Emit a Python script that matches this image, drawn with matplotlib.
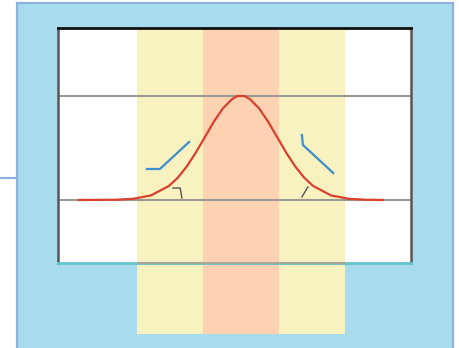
import matplotlib.pyplot as plt
from matplotlib.patches import Rectangle
from matplotlib.lines import Line2D

# Bell curve (x in sigma units, height relative to peak)
curve_x = [-4.5, -3.5, -3.0, -2.5, -2.0, -1.75, -1.5, -1.25, -1.0, -0.75, -0.5, -0.25,
           -0.1, 0.1, 0.25, 0.5, 0.75, 1.0, 1.25, 1.5, 1.75, 2.0, 2.5, 3.0, 3.5, 3.94]
curve_y = [0.0, 0.002, 0.011, 0.044, 0.135, 0.216, 0.325, 0.458, 0.607, 0.755, 0.882, 0.969,
           1.0, 1.0, 0.969, 0.882, 0.755, 0.607, 0.458, 0.325, 0.216, 0.135, 0.044, 0.011, 0.002, 0.0]

# Shaded bands (edges in sigma units)
inner_band = [-1.05, 1.05]
outer_band = [-2.9, 2.9]

# Reference lines: baseline and peak level
ref_levels = [0.0, 1.0]

# Small pointers next to the curve
left_arrow_x = [-2.61, -2.25, -1.44]
left_arrow_y = [0.298, 0.298, 0.558]
right_arrow_x = [1.69, 1.72, 2.56]
right_arrow_y = [0.625, 0.529, 0.26]
left_tick_x = [-1.89, -1.69, -1.64]
left_tick_y = [0.115, 0.115, 0.019]
right_tick_x = [1.69, 1.86]
right_tick_y = [0.029, 0.125]

W, H = 460, 348
fig = plt.figure(figsize=(W / 100, H / 100), dpi=100)
fig.patch.set_facecolor("white")

# blue frame behind everything
frame = Rectangle((17 / W, -0.05), (453 - 17) / W, (H - 3) / H + 0.05,
                  transform=fig.transFigure, facecolor="#a8dbee",
                  edgecolor="#8eb2de", linewidth=1.6, zorder=-5)
fig.patches.append(frame)
fig.lines.append(Line2D([0, 17 / W], [1 - 178 / H, 1 - 178 / H],
                        transform=fig.transFigure, color="#8eb2de", linewidth=1.6,
                        zorder=-5))

ax = fig.add_axes([58 / W, (H - 263) / H, (411 - 58) / W, (263 - 28) / H])
ax.set_zorder(2)
ax.set_facecolor("white")
ax.set_xlim(-5.08, 4.72)
ylo, yhi = -0.606, 1.654
ax.set_ylim(ylo, yhi)
band_bottom = -1.29

ax.fill_between(outer_band, band_bottom, yhi, color="#f8f1c0", linewidth=0,
                clip_on=False, zorder=1)
ax.fill_between(inner_band, band_bottom, yhi, color="#fdd2b2", linewidth=0,
                clip_on=False, zorder=1.1)

for lvl in ref_levels:
    ax.axhline(lvl, color="#9a9a92", linewidth=1.5, zorder=2)
ax.hlines(ylo, outer_band[0], outer_band[1], color="#a8a89a", linewidth=1.5,
          clip_on=False, zorder=6)

ax.plot(curve_x, curve_y, color="#d9402e", linewidth=1.6, zorder=4)
ax.plot(left_arrow_x, left_arrow_y, color="#3b8fcc", linewidth=1.6, zorder=4)
ax.plot(right_arrow_x, right_arrow_y, color="#3b8fcc", linewidth=1.6, zorder=4)
ax.plot(left_tick_x, left_tick_y, color="#555555", linewidth=1.0, zorder=4)
ax.plot(right_tick_x, right_tick_y, color="#555555", linewidth=1.0, zorder=4)

ax.set_xticks([])
ax.set_yticks([])
ax.spines["top"].set_color("#111111")
ax.spines["top"].set_linewidth(2.0)
ax.spines["left"].set_color("#5a5550")
ax.spines["left"].set_linewidth(1.8)
ax.spines["right"].set_color("#5a5550")
ax.spines["right"].set_linewidth(1.8)
ax.spines["bottom"].set_color("#62c4cc")
ax.spines["bottom"].set_linewidth(2.0)
for s in ax.spines.values():
    s.set_zorder(5)

fig.savefig("out.png", dpi=100)
